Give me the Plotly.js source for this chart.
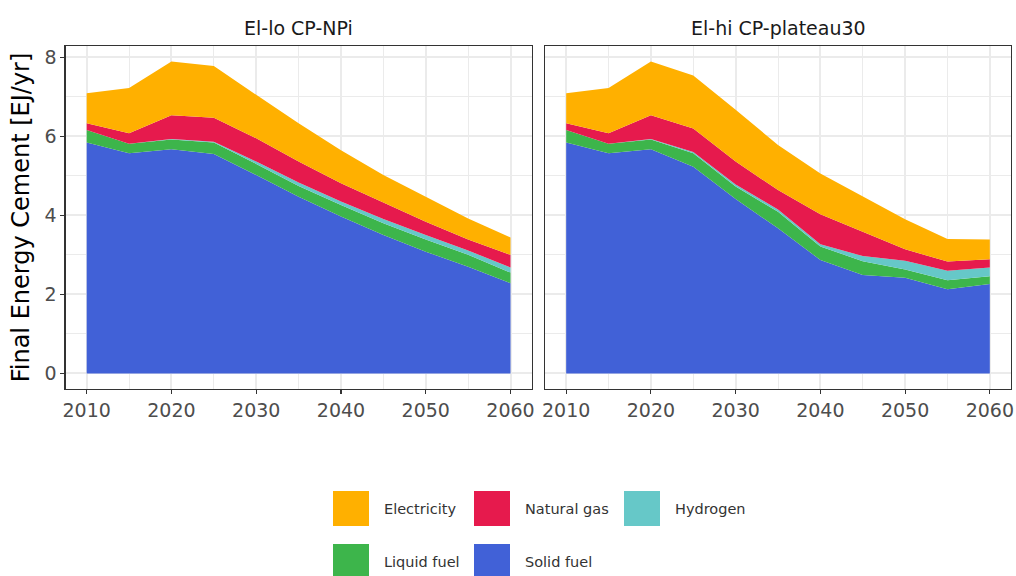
<!DOCTYPE html>
<html>
<head>
<meta charset="utf-8">
<script src="https://cdn.plot.ly/plotly-3.0.1.min.js"></script>
<style>
html, body { margin: 0; padding: 0; background: #ffffff; }
#chart { width: 1016px; height: 576px; }
</style>
</head>
<body>
<div id="chart"></div>
<script>
// ---------------- data ----------------
const years = [2010, 2015, 2020, 2025, 2030, 2035, 2040, 2045, 2050, 2055, 2060];
const panelTitles = ["El-lo CP-NPi", "El-hi CP-plateau30"];

// stacking order bottom -> top
const carriers = ["Solid fuel", "Liquid fuel", "Hydrogen", "Natural gas", "Electricity"];
const carrierColors = ["#4161D7", "#3DB54B", "#66C8C8", "#E61A4D", "#FFB000"];
const legendOrder = ["Electricity", "Natural gas", "Hydrogen", "Liquid fuel", "Solid fuel"];

// Panel 1: El-lo CP-NPi  (EJ/yr)
const solidLo       = [5.84, 5.57, 5.67, 5.55, 5.02, 4.47, 3.97, 3.50, 3.08, 2.70, 2.28];
const liquidLo      = [0.32, 0.24, 0.25, 0.29, 0.28, 0.27, 0.29, 0.30, 0.31, 0.30, 0.27];
const hydrogenLo    = [0.00, 0.00, 0.01, 0.02, 0.06, 0.09, 0.09, 0.11, 0.11, 0.11, 0.13];
const gasLo         = [0.17, 0.27, 0.60, 0.61, 0.59, 0.53, 0.46, 0.41, 0.34, 0.28, 0.32];
const electricityLo = [0.76, 1.14, 1.36, 1.31, 1.10, 0.97, 0.84, 0.70, 0.63, 0.53, 0.44];

// Panel 2: El-hi CP-plateau30  (EJ/yr)
const solidHi       = [5.84, 5.57, 5.67, 5.23, 4.41, 3.67, 2.87, 2.49, 2.42, 2.13, 2.26];
const liquidHi      = [0.32, 0.24, 0.25, 0.34, 0.32, 0.42, 0.34, 0.35, 0.21, 0.23, 0.20];
const hydrogenHi    = [0.00, 0.00, 0.01, 0.03, 0.05, 0.06, 0.06, 0.13, 0.22, 0.24, 0.22];
const gasHi         = [0.17, 0.27, 0.60, 0.60, 0.58, 0.49, 0.76, 0.62, 0.29, 0.23, 0.21];
const electricityHi = [0.76, 1.14, 1.36, 1.34, 1.31, 1.14, 1.03, 0.88, 0.76, 0.57, 0.50];

const panelSeries = [
  [solidLo, liquidLo, hydrogenLo, gasLo, electricityLo],
  [solidHi, liquidHi, hydrogenHi, gasHi, electricityHi]
];

// ---------------- build ----------------
const W = 1016, H = 576;
const px = x => x / W;
const py = y => (H - y) / H;

const traces = [];
panelSeries.forEach((series, p) => {
  series.forEach((vals, i) => {
    traces.push({
      type: 'scatter',
      mode: 'lines',
      x: years,
      y: vals,
      name: carriers[i],
      stackgroup: 'p' + p,
      line: { width: 0, color: carrierColors[i] },
      fillcolor: carrierColors[i],
      showlegend: false,
      xaxis: p === 0 ? 'x' : 'x2',
      yaxis: p === 0 ? 'y' : 'y2',
      hoverinfo: 'x+y+name'
    });
  });
});

const gridCol = '#EBEBEB';
const tickFont = { family: 'DejaVu Sans', size: 19, color: '#4D4D4D' };

function xAxis(domain) {
  return {
    domain: domain,
    range: [2007.5, 2062.5],
    tick0: 2010, dtick: 10,
    showgrid: true, gridcolor: gridCol, gridwidth: 2,
    minor: { dtick: 5, tick0: 2010, showgrid: true, gridcolor: gridCol, gridwidth: 1, ticklen: 0 },
    zeroline: false,
    showline: true, mirror: true, linecolor: '#333333', linewidth: 1.1,
    ticks: 'outside', ticklen: 4, tickcolor: '#333333', tickwidth: 1.1,
    tickfont: tickFont,
    fixedrange: true
  };
}
function yAxis(domain, anchor, showLabels) {
  return {
    domain: domain,
    anchor: anchor,
    range: [-0.395, 8.285],
    tick0: 0, dtick: 2,
    showgrid: true, gridcolor: gridCol, gridwidth: 2,
    minor: { dtick: 1, tick0: 0, showgrid: true, gridcolor: gridCol, gridwidth: 1, ticklen: 0 },
    zeroline: false,
    showline: true, mirror: true, linecolor: '#333333', linewidth: 1.1,
    ticks: showLabels ? 'outside' : '', ticklen: 4, tickcolor: '#333333', tickwidth: 1.1,
    showticklabels: showLabels,
    tickfont: tickFont,
    fixedrange: true
  };
}

const yDom = [py(389), py(46)];
const layout = {
  width: W, height: H,
  margin: { l: 0, r: 0, t: 0, b: 0 },
  paper_bgcolor: '#FFFFFF',
  plot_bgcolor: '#FFFFFF',
  showlegend: false,
  font: { family: 'DejaVu Sans', color: '#1A1A1A' },
  xaxis: Object.assign(xAxis([px(65.5), px(531.7)]), { anchor: 'y' }),
  xaxis2: Object.assign(xAxis([px(545), px(1011)]), { anchor: 'y2' }),
  yaxis: Object.assign(yAxis(yDom, 'x', true), {
    title: { text: 'Final Energy Cement [EJ/yr]', font: { family: 'DejaVu Sans', size: 24, color: '#000000' }, standoff: 8 }
  }),
  yaxis2: Object.assign(yAxis(yDom, 'x2', false), { matches: 'y' }),
  annotations: [],
  shapes: []
};

// panel strip titles
const panelCenters = [(65.5 + 531.7) / 2, (545 + 1011) / 2];
panelTitles.forEach((t, i) => {
  layout.annotations.push({
    text: t, xref: 'paper', yref: 'paper',
    x: px(panelCenters[i]), y: py(28),
    xanchor: 'center', yanchor: 'middle', showarrow: false,
    font: { family: 'DejaVu Sans', size: 19, color: '#1A1A1A' }
  });
});

// legend (manual, ggplot-style large keys)
const legColX = [333, 474, 624];
const legRowY = [491, 544];
legendOrder.forEach((name, k) => {
  const idx = carriers.indexOf(name);
  const col = k % 3, row = Math.floor(k / 3);
  const x0 = legColX[col], y0 = legRowY[row];
  layout.shapes.push({
    type: 'rect', xref: 'paper', yref: 'paper',
    x0: px(x0), x1: px(x0 + 36), y0: py(y0 + 35), y1: py(y0),
    fillcolor: carrierColors[idx], line: { width: 0 }
  });
  layout.annotations.push({
    text: name, xref: 'paper', yref: 'paper',
    x: px(x0 + 49), y: py(y0 + 18),
    xanchor: 'left', yanchor: 'middle', showarrow: false,
    font: { family: 'DejaVu Sans', size: 14.5, color: '#333333' }
  });
});

Plotly.newPlot('chart', traces, layout, { displayModeBar: false, staticPlot: true });
</script>
</body>
</html>
